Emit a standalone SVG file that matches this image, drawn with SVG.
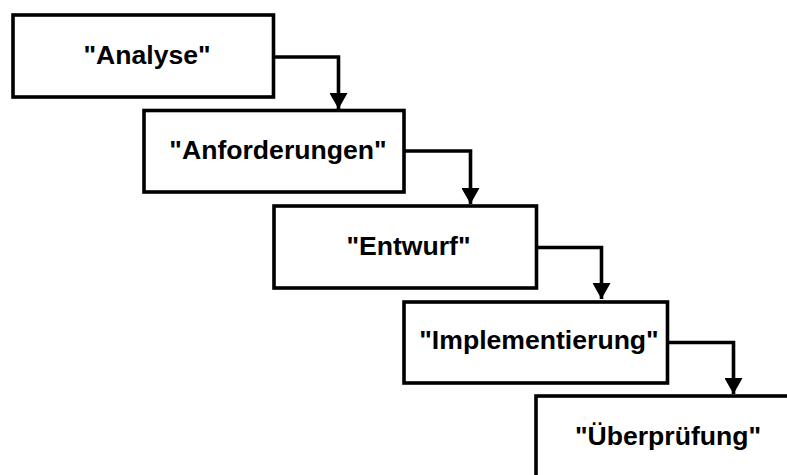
<svg xmlns="http://www.w3.org/2000/svg" width="787" height="475" viewBox="0 0 787 475">
  <style>
    .box { fill: #ffffff; stroke: #000000; stroke-width: 3.6; }
    .label { font-family: "Liberation Sans", Arial, sans-serif; font-weight: bold; font-size: 26.6px; fill: #000000; text-anchor: middle; }
    .link { fill: none; stroke: #000000; stroke-width: 3.6; marker-end: url(#head); }
  </style>
  <defs>
    <!-- arrowhead drawn along +x; orient="auto" turns it to follow the last segment -->
    <marker id="head" markerUnits="userSpaceOnUse" markerWidth="16" markerHeight="18" refX="15" refY="8.5" orient="auto" viewBox="0 0 15 17">
      <path d="M0,0 L15,8.5 L0,17 Z" fill="#000000"/>
    </marker>
  </defs>
  <rect width="787" height="475" fill="#ffffff"/>

  <g id="connectors">
    <path class="link" d="M273.5,57 H338.5 V109"/>
    <path class="link" d="M404,151 H470.5 V204"/>
    <path class="link" d="M536.5,247.5 H601.5 V299"/>
    <path class="link" d="M667.5,342.5 H733.5 V394"/>
  </g>

  <g id="analyse">
    <rect class="box" x="13" y="15" width="260.5" height="82"/>
    <text class="label" x="147" y="63.5">"Analyse"</text>
  </g>
  <g id="anforderungen">
    <rect class="box" x="144" y="110.5" width="260" height="81.5"/>
    <text class="label" x="278" y="158.5">"Anforderungen"</text>
  </g>
  <g id="entwurf">
    <rect class="box" x="274" y="206" width="262.5" height="82"/>
    <text class="label" x="408.5" y="255">"Entwurf"</text>
  </g>
  <g id="implementierung">
    <rect class="box" x="404" y="302" width="263.5" height="81"/>
    <text class="label" x="539" y="348.5">"Implementierung"</text>
  </g>
  <g id="ueberpruefung">
    <rect class="box" x="536" y="396" width="300" height="120"/>
    <text class="label" x="668" y="445">"Überprüfung"</text>
  </g>
</svg>
